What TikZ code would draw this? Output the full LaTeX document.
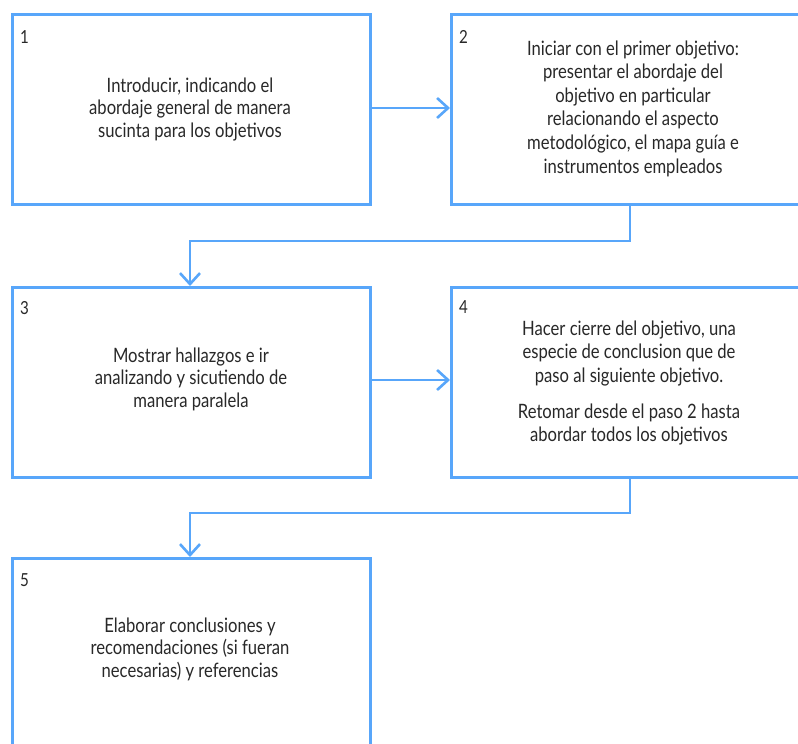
\documentclass[tikz,border=0pt]{standalone}
\usepackage{fontspec}
\setmainfont[FakeStretch=0.84]{Lato}
\usetikzlibrary{arrows.meta}
\definecolor{flowblue}{RGB}{88,166,250}
\definecolor{txt}{RGB}{40,40,40}
\tikzset{
  x=1pt,y=1pt,
  box/.style={draw=flowblue,line width=2.6pt,minimum width=358pt,minimum height=190pt,anchor=north west,inner sep=0pt},
  num/.style={anchor=base west,text=txt,font=\fontsize{18pt}{20pt}\selectfont,inner sep=0pt},
  body/.style={align=center,text=txt,font=\fontsize{19.8pt}{22.8pt}\selectfont,inner sep=0pt,anchor=base},
  bodywide/.style={body,font=\fontsize{19.8pt}{23.6pt}\selectfont},
  link/.style={draw=flowblue,line width=2.6pt,-{Straight Barb[length=11pt,width=20pt,line width=2.6pt]}}
}
\begin{document}
\begin{tikzpicture}
\useasboundingbox (0,0) rectangle (798,-744);
\fill[white] (0,0) rectangle (798,-744);
\node[box] (b1) at (11,-13) {};
\node[box,minimum width=370pt] (b2) at (450,-13) {};
\node[box] (b3) at (11,-286) {};
\node[box,minimum width=370pt] (b4) at (450,-286) {};
\node[box,minimum height=200pt] (b5) at (11,-557) {};
\node[num] (n1) at (20,-43) {1};
\node[num] (n2) at (459,-43) {2};
\node[num] (n3) at (20,-314) {3};
\node[num] (n4) at (459,-313) {4};
\node[num] (n5) at (20,-586) {5};
\node[body] (t1) at (190,-137.6) {Introducir, indicando el\\abordaje general de manera\\sucinta para los objetivos};
\node[bodywide] (t2) at (633,-173) {Iniciar con el primer objetivo:\\presentar el abordaje del\\objetivo en particular\\relacionando el aspecto\\metodológico, el mapa guía e\\instrumentos empleados};
\node[body] (t3) at (191,-407.6) {Mostrar hallazgos e ir\\analizando y sicutiendo de\\manera paralela};
\node[bodywide] (t4a) at (629,-382.2) {Hacer cierre del objetivo, una\\especie de conclusion que de\\paso al siguiente objetivo.};
\node[bodywide] (t4b) at (629,-441.6) {Retomar desde el paso 2 hasta\\abordar todos los objetivos};
\node[body] (t5) at (190,-677.6) {Elaborar conclusiones y\\recomendaciones (si fueran\\necesarias) y referencias};
\coordinate (k1) at (630,-241);
\coordinate (k2) at (190,-241);
\coordinate (k3) at (630,-513);
\coordinate (k4) at (190,-513);
\draw[link] (b1.east |- 0,-108) -- (b2.west |- 0,-108);
\draw[link] (b2.south -| k1) -- (k1) -- (k2) -- (b3.north -| k2);
\draw[link] (b3.east |- 0,-380) -- (b4.west |- 0,-380);
\draw[link] (b4.south -| k3) -- (k3) -- (k4) -- (b5.north -| k4);
\end{tikzpicture}
\end{document}
